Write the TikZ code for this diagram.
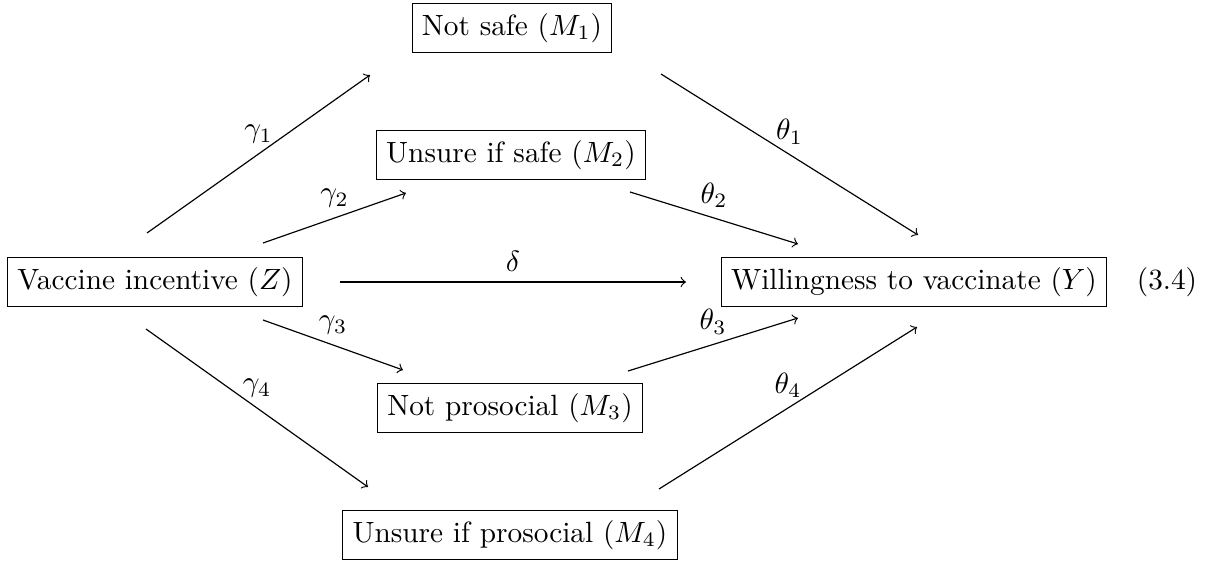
\documentclass[tikz,border=0pt]{standalone}
\usepackage{amsmath}
\usetikzlibrary{arrows, positioning}
\tikzstyle{varnode} = [draw, rectangle, align=center]
\tikzstyle{effect} = [->]

\begin{document}
\begin{tikzpicture}[x=0.3413pt, y=-0.3413pt]
        \useasboundingbox (0,0) rectangle (1225,560);
        \node (z) [varnode] at (155,282) {Vaccine incentive ($Z$)};
        \node (y) [varnode] at (914,282) {Willingness to vaccinate ($Y$)};
        \node (eqno) at (1167,282) {(3.4)};
        \node (m1) [varnode] at (512,28) {Not safe ($M_1$)};
        \node (m2) [varnode] at (511,155) {Unsure if safe ($M_2$)};
        \node (m3) [varnode] at (510,408) {Not prosocial ($M_3$)};
        \node (m4) [varnode] at (510,535) {Unsure if prosocial ($M_4$)};

        % arrow ends
        \coordinate (g1s) at (147,233);  \coordinate (g1e) at (370,75);
        \coordinate (g2s) at (263,243);  \coordinate (g2e) at (406,193);
        \coordinate (ds)  at (340,282);  \coordinate (de)  at (686,282);
        \coordinate (g3s) at (263,320);  \coordinate (g3e) at (403,370);
        \coordinate (g4s) at (146,329);  \coordinate (g4e) at (368,487);
        \coordinate (t1s) at (661,74);   \coordinate (t1e) at (918,235);
        \coordinate (t2s) at (630,192);  \coordinate (t2e) at (798,244);
        \coordinate (t3s) at (628,371);  \coordinate (t3e) at (798,318);
        \coordinate (t4s) at (659,489);  \coordinate (t4e) at (917,327);

        \draw [effect] (g1s) -- node[above] {$\gamma_1$} (g1e);
        \draw [effect] (g2s) -- node[above] {$\gamma_2$} (g2e);
        \draw [effect] (ds) -- node[above] {$\delta$} (de);
        \draw [effect] (g3s) -- node[above] {$\gamma_3$} (g3e);
        \draw [effect] (g4s) -- node[above] {$\gamma_4$} (g4e);
        \draw [effect] (t1s) -- node[above] {$\theta_1$} (t1e);
        \draw [effect] (t2s) -- node[above] {$\theta_2$} (t2e);
        \draw [effect] (t3s) -- node[above] {$\theta_3$} (t3e);
        \draw [effect] (t4s) -- node[above] {$\theta_4$} (t4e);
\end{tikzpicture}
\end{document}
